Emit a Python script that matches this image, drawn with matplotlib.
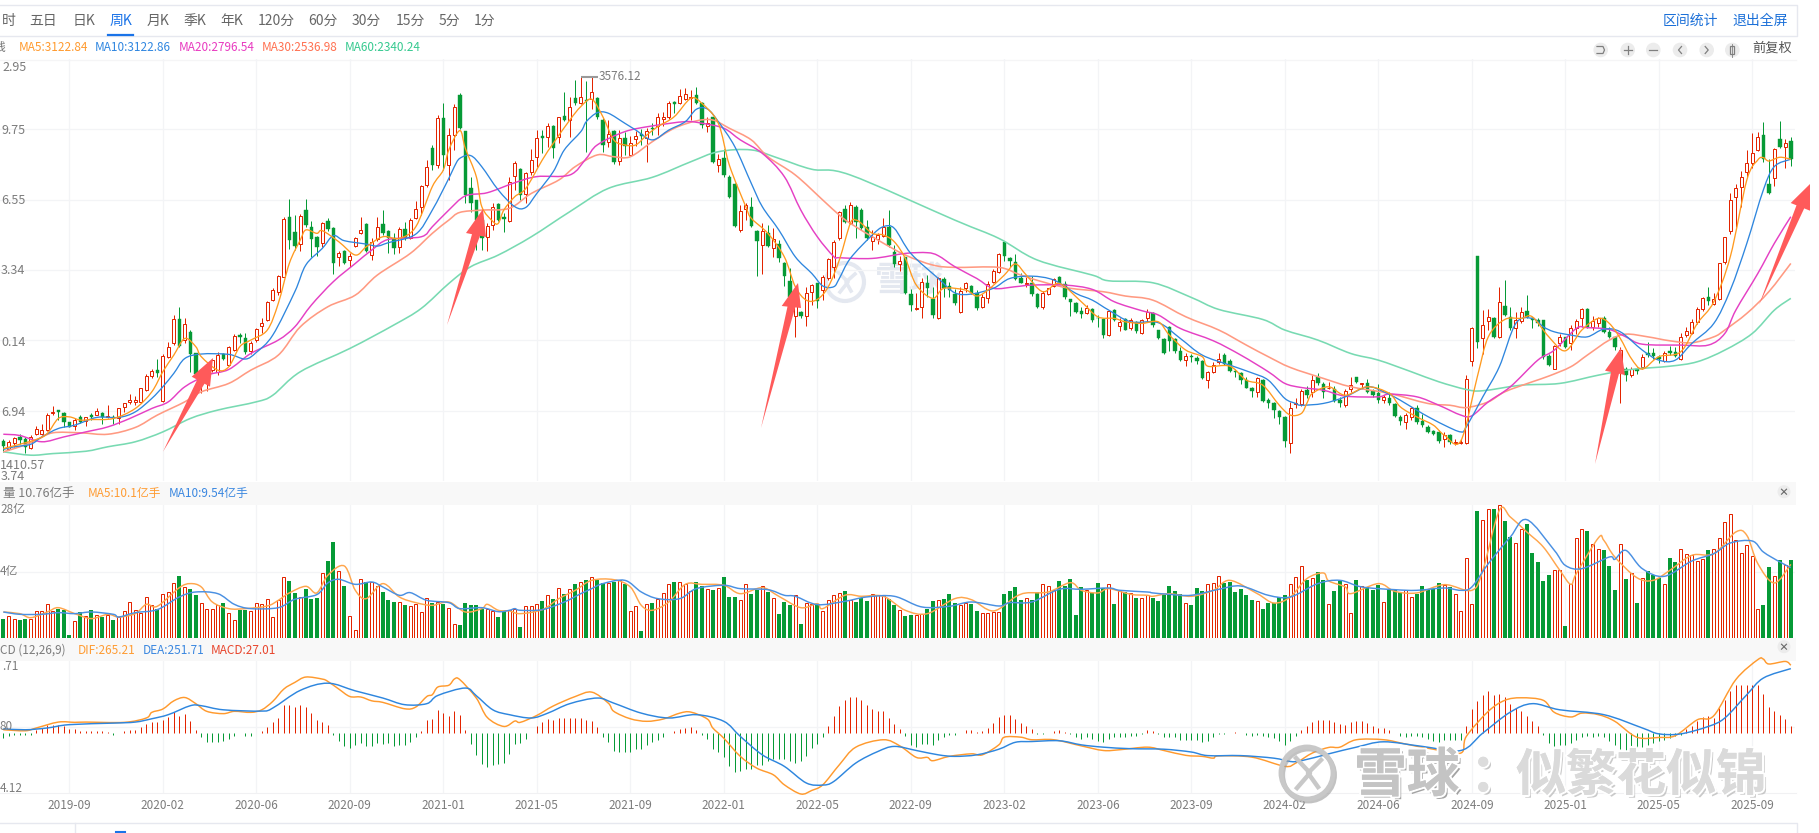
import numpy as np
import matplotlib
matplotlib.use("Agg")
import matplotlib.pyplot as plt
from matplotlib.patches import Circle, Polygon, Rectangle, PathPatch
from matplotlib.path import Path
import matplotlib.patheffects as pe

plt.rcParams['font.family'] = ['Noto Sans CJK SC', 'DejaVu Sans']

W, H = 1819, 833

# weekly candles. R = rising (hollow red), G = falling (green)
directions = ("GRRGGRRRRR" "GGGRGRGRGR" "GRRRRRRRGR" "RRGRGGRRRR" "GRRGGRRRRR"
              "RRGGRGGGRG" "GRGRRRGRRG" "GGRGRRRRGR" "GRRGGGGGRR" "GGRRGRRRGR"
              "GRGRGRGRGG" "RGRGRRGRGR" "RRGRRRGGRG" "RGGGRRGGRG" "RGGGRGRRGR"
              "RRRGRGGGRR" "RGGRGGRRGG" "RGGGRRGGRR" "RRGGGGRGGR" "RRGGGGGRGG"
              "GRGRGRGRRG" "GGGGGRGGGR" "RRGGGGGGRG" "GGGGRRRGRG" "GRGGRRGRGG"
              "GRGGGRRGGG" "GGRGRRRRGR" "RGRGGRRGGG" "GGRRGRRRGR" "RGGGRGRGRG"
              "GGRGGRRRRR" "GRRRRRRRRR" "GGRGRG")

body_tops = [
    1509,1504,1526,1528,1522,1531,1578,1572,1656,1671,
    1681,1666,1612,1628,1640,1640,1653,1677,1662,1647,
    1643,1690,1718,1736,1736,1802,1871,1899,1904,1982,
    2035,2189,2189,2159,2118,1997,1867,1904,1960,1988,
    1994,2035,2094,2103,2085,2057,2135,2169,2282,2351,
    2429,2746,2757,2677,2765,2798,2701,2646,2728,2737,
    2696,2560,2571,2541,2640,2687,2718,2621,2701,2718,
    2681,2640,2694,2690,2742,2804,2934,3040,3145,3313,
    3313,3218,3376,3441,3242,2923,2854,2742,2711,2817,
    2830,2757,2957,3059,3026,3003,3078,3199,3212,3268,
    3268,3316,3324,3376,3422,3432,3413,3456,3422,3301,
    3223,3242,3199,3199,3175,3212,3223,3242,3257,3316,
    3316,3398,3404,3435,3445,3432,3441,3394,3286,3316,
    3082,3087,2985,2944,2793,2826,2817,2683,2683,2668,
    2634,2606,2504,2402,2267,2230,2333,2379,2388,2426,
    2523,2621,2789,2804,2826,2817,2798,2705,2649,2659,
    2705,2701,2565,2515,2534,2327,2249,2398,2388,2299,
    2416,2411,2374,2329,2347,2388,2375,2333,2314,2385,
    2459,2551,2621,2528,2510,2416,2388,2388,2329,2336,
    2361,2411,2422,2385,2299,2280,2236,2249,2243,2198,
    2187,2232,2239,2174,2187,2184,2174,2184,2230,2225,
    2128,2076,2143,2076,2012,1982,1982,1973,1956,1895,
    1932,1964,1990,1956,1900,1889,1848,1802,1858,1848,
    1736,1722,1677,1643,1690,1722,1789,1792,1848,1867,
    1826,1807,1796,1736,1789,1820,1863,1833,1830,1789,
    1774,1755,1746,1714,1643,1653,1690,1690,1621,1587,
    1565,1559,1541,1541,1500,1502,1852,2141,2541,2156,
    2202,2197,2286,2264,2202,2184,2230,2232,2193,2184,
    2184,1982,2038,2087,2087,2137,2180,2245,2245,2180,
    2193,2198,2118,2087,2016,1913,1913,1913,1975,1997,
    2001,1979,2001,2012,2007,2090,2122,2171,2245,2305,
    2310,2299,2500,2646,2854,2919,2981,3059,3119,3204,
    3217,2944,3137,3193,3175,3186]

body_bottoms = [
    1479,1466,1498,1513,1476,1470,1546,1550,1572,1662,
    1671,1615,1587,1591,1615,1621,1643,1656,1640,1640,
    1634,1634,1699,1727,1727,1727,1792,1871,1889,1731,
    1979,2053,2040,2072,1994,1885,1830,1858,1904,1895,
    1969,1932,2016,2090,2007,2010,2072,2150,2184,2295,
    2342,2426,2631,2597,2608,2715,2636,2590,2612,2690,
    2504,2534,2504,2519,2597,2668,2571,2547,2636,2672,
    2640,2584,2590,2640,2640,2752,2813,2938,3050,3050,
    3106,3050,3217,3255,2882,2836,2742,2640,2649,2714,
    2742,2746,2739,2990,2882,2888,3013,3093,3203,3204,
    3143,3204,3301,3301,3394,3394,3406,3417,3316,3162,
    3178,3068,3074,3156,3106,3197,3212,3203,3249,3268,
    3309,3320,3391,3394,3421,3424,3394,3273,3268,3068,
    3048,2994,2873,2709,2687,2802,2709,2627,2603,2597,
    2588,2528,2429,2314,2206,2206,2206,2342,2292,2351,
    2416,2482,2640,2733,2728,2733,2696,2640,2627,2634,
    2653,2603,2497,2497,2333,2267,2243,2258,2361,2211,
    2193,2361,2351,2277,2230,2361,2333,2249,2254,2305,
    2398,2454,2541,2515,2411,2392,2385,2329,2258,2258,
    2329,2374,2392,2310,2284,2230,2217,2225,2184,2193,
    2100,2100,2184,2150,2131,2137,2124,2109,2198,2154,
    2081,2001,2068,2012,1960,1960,1975,1956,1858,1848,
    1895,1951,1941,1900,1893,1848,1807,1789,1783,1733,
    1722,1681,1643,1509,1498,1714,1714,1764,1783,1830,
    1783,1804,1733,1718,1708,1796,1839,1826,1783,1764,
    1740,1736,1718,1647,1621,1612,1640,1615,1597,1559,
    1550,1509,1522,1502,1496,1498,1498,1956,2062,2081,
    2180,2087,2087,2211,2137,2137,2180,2202,2184,2165,
    1979,1932,1913,2053,2031,2057,2137,2198,2143,2146,
    2165,2118,2090,2031,1923,1876,1876,1900,1923,1988,
    1982,1964,1956,1997,1982,1969,2100,2113,2174,2245,
    2292,2273,2299,2510,2683,2873,2925,3013,3063,3134,
    3082,2895,2975,3149,3149,3082]

highs = [
    1517,1513,1531,1550,1531,1541,1591,1606,1666,1703,
    1684,1671,1615,1634,1653,1643,1666,1692,1668,1707,
    1653,1695,1723,1770,1759,1807,1880,1910,1966,1993,
    2062,2211,2258,2198,2128,2001,1904,1923,1969,2007,
    2001,2040,2105,2109,2113,2068,2141,2198,2290,2361,
    2433,2757,2860,2770,2776,2860,2737,2653,2733,2755,
    2705,2571,2575,2556,2649,2761,2724,2640,2761,2798,
    2687,2668,2701,2729,2752,2851,2938,3078,3160,3329,
    3396,3257,3391,3450,3242,2985,2854,2761,2724,2836,
    2836,2780,2985,3072,3031,3013,3137,3245,3245,3283,
    3273,3320,3460,3432,3525,3544,3521,3540,3432,3311,
    3301,3245,3245,3236,3212,3242,3249,3255,3283,3339,
    3348,3409,3409,3473,3482,3469,3484,3404,3320,3320,
    3111,3137,2994,2947,2826,2839,2869,2687,2724,2715,
    2696,2631,2510,2472,2351,2236,2370,2385,2392,2435,
    2528,2631,2795,2826,2845,2826,2808,2742,2687,2668,
    2752,2798,2603,2541,2538,2355,2333,2416,2435,2370,
    2426,2426,2398,2355,2370,2398,2379,2351,2329,2402,
    2467,2556,2627,2534,2551,2444,2422,2429,2336,2347,
    2364,2416,2429,2403,2303,2286,2254,2267,2252,2211,
    2193,2239,2243,2193,2197,2197,2180,2187,2243,2230,
    2131,2081,2150,2081,2035,1997,1992,1982,1960,1900,
    1951,1997,1997,1969,1908,1895,1867,1811,1863,1852,
    1746,1727,1684,1647,1727,1746,1796,1816,1876,1889,
    1839,1839,1815,1755,1796,1867,1867,1833,1852,1796,
    1824,1764,1783,1722,1653,1662,1699,1708,1658,1597,
    1569,1569,1559,1546,1522,1522,1876,2146,2541,2239,
    2243,2202,2366,2407,2258,2230,2254,2323,2202,2198,
    2184,1994,2044,2105,2090,2156,2187,2249,2249,2206,
    2202,2206,2143,2094,2035,1919,1919,1923,1994,2062,
    2025,1988,2012,2038,2031,2109,2146,2187,2258,2314,
    2370,2336,2504,2649,2891,2944,3018,3134,3227,3236,
    3288,3082,3143,3296,3193,3205]

lows = [
    1448,1457,1476,1494,1442,1466,1541,1541,1565,1653,
    1628,1584,1584,1569,1610,1591,1628,1653,1602,1634,
    1602,1606,1671,1714,1708,1718,1789,1858,1867,1727,
    1973,2044,2035,2053,1895,1871,1777,1789,1895,1876,
    1960,1926,2012,2053,1994,1994,2062,2109,2180,2292,
    2323,2422,2582,2575,2571,2705,2537,2543,2590,2683,
    2441,2485,2497,2478,2590,2664,2565,2519,2627,2659,
    2560,2552,2556,2631,2634,2746,2770,2929,3020,3033,
    3022,2966,3134,3249,2836,2789,2575,2575,2571,2687,
    2737,2677,2733,2910,2854,2836,2994,3041,3115,3152,
    3087,3171,3298,3208,3385,3391,3124,3361,3305,3124,
    3149,3055,3050,3106,3100,3156,3162,3068,3217,3217,
    3270,3305,3339,3391,3413,3301,3391,3255,3236,3059,
    3013,2985,2864,2705,2677,2742,2705,2429,2441,2593,
    2537,2510,2374,2267,2087,2193,2150,2267,2249,2295,
    2407,2416,2631,2728,2720,2640,2687,2631,2575,2608,
    2649,2593,2482,2459,2329,2236,2239,2193,2314,2198,
    2189,2314,2314,2267,2225,2342,2327,2239,2249,2277,
    2388,2448,2515,2482,2407,2388,2366,2318,2252,2243,
    2323,2370,2385,2299,2206,2225,2193,2217,2174,2143,
    2081,2094,2178,2124,2128,2131,2113,2105,2174,2146,
    2076,1994,2012,2001,1954,1926,1951,1938,1852,1805,
    1889,1938,1932,1895,1867,1826,1802,1755,1755,1727,
    1690,1634,1602,1472,1442,1690,1703,1746,1755,1820,
    1751,1796,1727,1699,1699,1783,1830,1796,1774,1755,
    1722,1718,1708,1640,1597,1578,1628,1606,1587,1554,
    1541,1498,1472,1494,1485,1489,1494,1926,2025,1994,
    2131,2081,2081,2206,2131,2081,2165,2193,2137,2150,
    1969,1926,1908,2038,2025,2016,2105,2146,2137,2128,
    2146,2113,2081,2016,1718,1844,1867,1885,1913,1979,
    1969,1945,1951,1988,1975,1960,2087,2105,2161,2236,
    2267,2267,2295,2497,2664,2705,2813,2985,3031,3130,
    3068,2888,2932,3143,3031,3044]

# moving averages on the price panel
ma5_idx = [0,3,6,8,10,12,14,16,20,24,27,29,31,33,35,36,39,41,43,45,48,50,52,54,55,57,58,61,64,66,69,72,75,78,80,
           81,83,84,86,87,89,90,91,93,95,98,100,103,105,107,109,111,113,115,117,119,122,125,127,130,132,135,136,139,142,144,146,148,150,152,
           154,155,156,158,160,162,164,166,169,171,175,177,179,182,184,186,189,192,196,199,202,204,207,210,212,215,218,219,223,226,229,232,
           234,236,237,238,241,244,248,252,254,257,260,262,265,268,270,273,276,278,281,284,287,290,292,294,296,298,301,305,308,311,314,317,319,320,321,323,325]
ma5 = [1466,1490,1517,1550,1634,1643,1625,1628,1634,1690,1783,1895,1988,2081,2035,1979,1904,1923,2035,2072,2128,2277,2500,2631,2687,2668,2683,2621,2547,2593,2649,2640,2705,2929,3022,
       3134,3242,3143,2985,2817,2735,2724,2798,2873,2919,3078,3171,3301,3376,3417,3320,3190,3162,3162,3217,3264,3320,3422,3394,3283,3050,2817,2752,2668,2537,2370,2295,2299,2370,2519,
       2724,2742,2724,2668,2659,2621,2528,2379,2305,2361,2351,2318,2351,2435,2497,2435,2342,2388,2286,2202,2193,2174,2165,2174,2100,2016,1979,1926,1926,1848,1820,1708,
       1653,1662,1718,1774,1811,1764,1811,1774,1699,1643,1597,1541,1509,1867,2090,2187,2193,2202,2090,2012,2128,2193,2165,2081,1969,1910,1979,2007,2165,2286,2538,2966,3078,3091,3072,3093,3082]

ma10_idx = [0,2,5,7,10,13,17,21,24,27,29,31,33,36,41,44,46,49,53,55,58,60,62,66,68,70,75,78,
            81,82,83,85,87,90,93,95,97,100,102,105,106,108,110,113,115,118,121,124,126,128,130,133,136,138,141,144,147,149,151,
            152,154,158,160,162,165,170,173,176,180,183,187,191,195,198,201,205,210,214,218,223,227,230,233,235,
            236,240,244,248,251,254,258,262,265,266,269,272,275,278,280,282,285,288,291,294,298,301,304,307,311,314,317,320,322,325]
ma10 = [1461,1476,1490,1531,1578,1597,1640,1640,1671,1746,1811,1886,1969,1994,1992,1966,2003,2100,2342,2491,2584,2655,2627,2608,2597,2616,2664,2798,
        2975,3040,3087,3102,3040,2910,2817,2813,2891,3013,3134,3236,3292,3342,3339,3283,3245,3190,3245,3292,3361,3363,3292,3152,2947,2817,2687,2537,2444,2374,2370,
        2416,2528,2659,2705,2696,2556,2416,2336,2329,2361,2416,2429,2407,2333,2295,2239,2174,2169,2081,1988,1932,1889,1848,1746,1718,
        1708,1718,1755,1811,1783,1736,1662,1597,1559,1587,1755,1923,2165,2193,2146,2118,2100,2090,2133,2118,2016,1960,1960,2053,2165,2351,2612,2910,3041,3082]

ma20_idx = [0,3,7,11,15,19,23,27,30,33,37,41,45,50,53,56,60,64,67,70,76,78,
            81,84,88,93,97,103,106,108,113,118,124,127,131,134,138,142,145,148,151,
            152,158,164,168,170,173,177,180,184,187,193,198,202,207,210,214,220,225,230,233,
            236,240,244,250,252,257,261,265,267,270,274,279,282,286,288,292,295,298,305,310,313,315,319,322,325]
ma20 = [1546,1539,1504,1531,1559,1587,1634,1690,1727,1811,1876,1908,1997,2072,2146,2267,2398,2500,2575,2634,2649,2705,
        2798,2877,2895,2951,2985,2994,3087,3162,3236,3268,3292,3283,3255,3190,3115,2985,2798,2649,2538,
        2532,2528,2556,2560,2543,2482,2416,2361,2370,2379,2379,2355,2286,2236,2212,2137,2068,1988,1895,1830,
        1807,1792,1759,1755,1770,1755,1708,1653,1649,1727,1811,1960,2016,2137,2141,2131,2090,2049,2044,2044,2109,2239,2444,2612,2761]

ma30_idx = [0,3,6,9,14,19,24,28,33,36,41,45,50,54,59,64,68,74,78,81,
            83,87,92,96,101,104,108,111,114,118,122,126,129,132,136,139,144,149,152,154,
            159,164,169,173,181,185,190,194,200,204,209,215,221,226,230,
            234,240,245,252,259,263,266,270,273,278,281,285,288,292,295,299,303,307,311,313,317,321,325]
ma30 = [1448,1476,1513,1554,1554,1546,1584,1653,1727,1783,1830,1904,1988,2146,2258,2323,2435,2556,2668,2742,
        2785,2798,2808,2891,2966,3041,3106,3096,3096,3180,3255,3296,3301,3255,3190,3096,2994,2854,2770,2724,
        2631,2547,2491,2478,2478,2435,2388,2361,2342,2318,2295,2202,2128,2044,1979,
        1919,1858,1811,1774,1718,1708,1695,1727,1783,1839,1871,1923,1988,2072,2105,2090,2068,2057,2090,2128,2221,2342,2500]

ma60_idx = [0,5,9,15,19,24,29,34,39,46,49,54,63,71,76,81,85,90,96,103,110,118,125,130,136,141,147,154,
            173,181,188,198,201,209,216,221,229,233,239,245,250,256,261,266,269,276,283,290,296,303,308,313,318,322,325]
ma60 = [1448,1429,1438,1451,1476,1504,1559,1634,1681,1727,1764,1895,2025,2156,2249,2388,2482,2547,2649,2789,2919,2981,3068,3124,3134,3087,3026,2994,
        2742,2640,2519,2435,2403,2392,2310,2243,2187,2128,2072,1997,1960,1895,1839,1796,1789,1820,1830,1876,1908,1926,1951,2016,2109,2239,2305]

# volume, in 亿手
volumes = [
    2.60,3.02,2.60,2.47,2.65,2.60,3.70,3.70,4.66,3.70,
    4.07,3.84,0.41,2.33,3.61,3.11,3.84,3.20,2.88,3.20,
    2.47,2.92,3.70,4.94,3.84,3.52,5.62,4.62,3.98,6.03,
    6.31,7.54,8.55,6.99,6.76,5.90,4.80,3.98,3.98,4.52,
    4.84,3.43,2.47,3.93,3.93,3.70,4.80,4.66,5.35,2.88,
    5.21,8.36,7.86,6.22,5.62,6.76,5.39,5.48,8.91,10.60,
    13.21,9.19,7.13,3.02,1.10,8.09,7.68,7.68,7.13,6.31,
    5.21,4.94,4.94,4.52,4.39,4.66,3.56,5.48,4.80,4.94,
    4.66,4.11,1.92,1.78,4.89,4.52,4.52,4.07,4.07,3.79,
    2.92,3.75,3.93,4.07,1.55,4.43,4.43,4.66,5.12,5.90,
    5.44,6.90,6.03,6.72,7.45,7.72,8.04,8.41,8.04,7.59,
    7.59,7.72,7.95,7.40,3.75,4.43,1.01,4.75,4.84,5.44,
    6.22,7.40,7.72,7.72,7.49,6.44,7.72,7.13,6.72,6.58,
    6.90,8.41,5.67,5.67,5.21,7.40,6.12,6.67,7.13,6.35,
    5.53,3.29,4.98,4.62,5.90,1.92,4.89,4.66,4.75,3.70,
    5.21,5.90,6.22,6.49,5.30,4.98,5.58,5.12,6.12,5.90,
    5.85,5.35,4.52,3.84,3.02,3.15,3.15,3.29,3.98,5.07,
    5.21,5.35,6.03,4.84,4.52,4.89,4.66,3.75,3.47,3.47,
    3.61,3.61,6.03,6.49,7.04,5.21,5.53,5.30,6.35,7.49,
    7.13,6.58,7.91,7.13,8.09,3.15,7.04,6.58,6.22,7.59,
    6.90,7.40,4.66,6.49,6.31,6.22,5.53,5.53,5.99,
    5.53,5.16,5.90,7.17,6.49,6.03,4.89,4.57,6.90,6.44,
    7.40,7.59,8.55,7.63,7.72,6.35,6.76,5.90,5.21,5.07,
    4.02,4.84,4.84,5.67,5.90,7.40,8.41,9.92,7.95,8.32,
    9.14,8.04,4.66,6.49,7.86,7.40,3.47,8.04,7.13,7.04,
    6.58,7.36,4.94,6.58,6.58,6.35,6.58,5.67,6.03,7.13,
    6.67,6.81,7.59,7.36,7.04,6.03,3.75,11.01,4.66,17.46,
    16.18,17.69,17.73,18.23,16.09,13.89,13.07,15.04,15.72,11.70,
    10.47,7.86,8.73,9.32,9.32,1.69,7.49,13.76,14.94,14.72,
    12.98,12.20,12.06,9.87,6.67,12.89,8.18,8.96,4.84,8.27,
    9.19,8.64,8.32,7.49,11.01,10.47,12.20,11.52,11.47,10.56,
    10.83,12.06,12.20,13.76,15.95,17.00,13.44,11.70,12.75,11.24,
    3.98,4.57,9.78,8.50,10.69,10.10,10.74]

vol_ma5_idx = [0,3,5,8,10,13,16,19,21,24,26,28,32,34,36,38,41,44,48,50,52,55,57,59,62,64,66,69,72,75,78,81,84,87,88,90,
               92,94,98,101,104,107,111,114,116,118,121,124,127,131,134,138,141,145,148,149,153,156,160,164,168,173,176,180,184,186,190,194,196,199,201,205,208,
               209,212,216,220,223,228,231,234,237,240,241,244,245,250,253,257,262,267,269,272,274,277,280,283,285,286,290,291,293,297,300,303,307,311,315,317,319,322,325]
vol_ma5 = [3.61,3.38,2.83,3.61,4.20,3.38,2.70,3.29,2.92,3.38,4.66,4.39,6.94,7.50,7.04,4.98,4.07,4.07,4.43,5.21,6.22,7.13,6.22,8.64,9.92,6.58,5.44,7.50,5.67,4.89,4.52,4.98,3.61,4.07,4.66,3.84,
           3.75,3.38,3.93,5.44,6.58,7.95,8.04,7.04,4.52,3.84,4.98,7.40,7.40,7.27,6.12,6.94,5.76,4.20,4.75,4.07,5.90,5.76,5.76,3.84,3.38,5.44,5.30,3.75,5.67,6.22,6.35,7.63,6.58,6.22,6.81,6.03,5.90,
           5.76,6.12,5.76,6.58,7.95,6.12,4.84,5.67,8.18,8.96,7.86,7.04,6.12,7.50,6.44,6.22,7.36,6.58,9.32,17.55,16.64,14.58,12.52,9.32,7.40,8.87,13.76,13.44,11.15,8.32,7.95,9.32,11.38,11.61,14.58,14.12,10.24,7.59,10.14]

vol_ma10_idx = [0,3,7,10,13,16,20,21,24,28,32,35,39,42,45,50,53,57,59,61,64,67,69,72,74,77,81,83,87,90,
                92,93,94,98,102,105,107,109,113,116,119,123,126,131,134,139,142,144,148,153,157,162,167,172,176,181,183,187,192,196,201,203,208,
                209,212,216,221,225,230,234,239,243,247,253,257,262,265,267,270,274,277,282,284,287,292,293,295,298,302,307,311,314,318,320,323,325]
vol_ma10 = [3.61,3.29,3.29,3.52,3.38,3.61,3.29,2.92,3.52,3.93,5.67,6.35,6.12,4.66,4.07,4.20,5.35,5.99,7.59,8.09,7.40,7.72,7.04,5.90,6.26,5.21,4.89,4.07,4.20,3.65,
            3.84,4.07,3.84,3.93,4.98,6.12,6.81,7.50,7.95,6.35,5.44,5.44,6.81,7.27,6.81,6.67,5.90,5.76,4.62,5.07,5.67,5.76,4.30,4.39,4.98,4.43,4.89,4.98,6.72,6.72,6.90,6.58,6.35,
            6.22,6.03,5.90,6.72,7.17,5.90,5.67,7.50,7.95,7.04,6.67,6.58,6.90,6.58,7.04,10.24,13.89,16.27,12.06,10.00,9.55,11.15,10.83,12.06,9.55,8.50,10.60,11.61,13.07,13.34,11.84,10.47,9.69]

# MACD histogram
macd_hist = [
    -20,-13,-9,-8,-9,-7,13,20,30,33,30,26,17,17,9,9,9,9,7,5,
    -8,-1,9,13,13,22,36,43,43,52,61,82,68,73,48,13,-16,-33,-35,-34,
    -30,-22,-10,-1,-10,-10,-1,9,23,43,59,111,111,102,111,102,78,52,43,30,
    -9,-30,-52,-60,-46,-39,-52,-52,-39,-43,-39,-52,-46,-46,-33,-16,9,50,56,91,
    78,68,85,72,13,-42,-87,-121,-134,-124,-121,-115,-81,-42,-39,-22,0,26,43,56,
    52,59,60,60,60,60,52,48,22,
    -17,-35,-69,-72,-74,-72,-61,-61,-48,-36,-26,-17,0,10,17,21,22,13,-9,-22,
    -61,-74,-95,-128,-152,-150,-139,-139,-126,-126,-111,-102,-100,-100,-111,-115,-111,-91,-59,-43,
    -16,26,65,107,130,141,141,128,111,94,85,87,59,35,17,-13,-46,-55,-43,-43,
    -48,-26,-14,-8,-8,0,13,13,3,10,20,39,63,72,72,56,39,29,17,-3,
    -5,0,9,13,3,-5,-17,-22,-17,-22,-30,-35,-22,-17,-17,-16,-10,-10,-4,13,
    10,-3,-16,-16,-16,-26,-26,-26,-26,-33,-29,-17,-5,-3,
    0,5,-1,-7,-13,-9,-10,-17,-20,-29,-46,-29,-10,13,26,42,50,52,52,43,
    34,33,42,47,47,39,29,20,20,13,-1,-13,-16,-13,-13,-17,-23,-29,-33,-27,
    -27,-26,-26,29,95,124,150,163,147,154,141,115,98,85,68,48,29,-8,-39,-50,
    -46,-48,-39,-26,-16,-13,-16,-13,-16,-29,-46,-63,-76,-81,-76,-55,-46,-39,-29,-26,
    -20,-13,-7,16,29,48,63,68,59,98,130,163,189,189,189,189,189,154,100,87,
    72,56,26]

dif_idx = [0,4,6,10,13,15,22,26,27,29,31,33,35,37,40,42,45,47,49,51,53,55,58,59,61,63,65,67,69,73,75,77,78,79,81,82,83,86,88,91,93,94,97,100,104,107,
           110,111,114,117,120,123,125,128,129,131,134,137,140,142,145,147,149,152,155,160,163,166,168,169,172,176,178,181,182,185,187,191,196,200,203,208,211,215,
           218,220,221,227,233,235,238,241,243,246,251,255,260,265,266,270,273,276,280,282,285,287,290,293,297,301,304,308,311,315,319,320,321,324,325]
dif = [13,9,20,43,42,43,42,59,81,94,126,139,115,85,76,85,81,91,124,172,198,219,211,202,172,143,141,126,120,95,102,143,150,180,187,211,209,137,61,26,47,42,69,106,143,160,
       117,85,56,46,55,78,82,55,20,-20,-91,-137,-163,-202,-238,-224,-202,-124,-55,-26,-50,-95,-95,-108,-91,-81,-85,-46,-16,-16,-26,-26,-50,-68,-65,-55,-68,-87,
       -91,-98,-89,-94,-130,-117,-78,-56,-55,-26,-26,-43,-63,-78,-13,85,128,138,128,81,63,78,72,46,-16,-17,-10,52,68,209,287,289,270,280,265]

dea_idx = [0,4,8,12,20,24,27,30,34,36,40,47,49,54,59,64,69,73,77,79,84,86,89,92,96,99,103,108,
           111,116,121,126,131,134,138,142,146,149,151,155,159,162,166,170,173,177,181,184,187,192,196,200,205,211,216,
           219,225,231,234,236,241,246,251,258,265,269,274,278,283,291,298,301,305,310,313,317,320,325]
dea = [17,13,20,33,39,43,56,72,107,107,91,86,98,167,195,165,137,111,115,147,176,146,91,72,59,78,115,137,
       117,78,59,72,46,-13,-85,-130,-195,-203,-189,-117,-72,-52,-68,-85,-91,-85,-63,-36,-33,-30,-46,-55,-61,-63,-74,
       -88,-88,-98,-111,-108,-81,-55,-34,-52,-68,0,82,115,91,72,20,-3,-3,26,59,150,215,252]

grid_idx = [12,29,46,63,80,97,114,131,148,165,182,199,216,233,250,267,284,301,318]
date_labels = ['2019-09','2020-02','2020-06','2020-09','2021-01','2021-05','2021-09','2022-01','2022-05','2022-09',
               '2023-02','2023-06','2023-09','2024-02','2024-06','2024-09','2025-01','2025-05','2025-09']
price_ticks = [1676.94, 2070.14, 2463.34, 2856.55, 3249.75]

RED = '#e32400'
GREEN = '#069a36'
GRID = '#f3f4f6'
GRAY = '#7c7c7c'

fig = plt.figure(figsize=(W / 100, H / 100), dpi=100, facecolor='white')


def px_axes(top, bottom, zorder=1):
    ax = fig.add_axes([0, 1 - bottom / H, 1795 / W, (bottom - top) / H], zorder=zorder)
    ax.patch.set_alpha(0)
    for s in ax.spines.values():
        s.set_visible(False)
    ax.set_xlim(-0.6, 325.76)
    ax.set_xticks(grid_idx)
    ax.set_xticklabels([])
    ax.tick_params(length=0, labelleft=False)
    ax.grid(True, color=GRID, lw=0.9)
    ax.set_axisbelow(True)
    return ax


# the site draws its lines with smooth:true, so curve through the read points
def smooth_line(ax, xs, ys, color, lw, zorder=4, clip=True):
    p = np.column_stack([xs, ys]).astype(float)
    verts = [p[0]]
    codes = [Path.MOVETO]
    for k in range(len(p) - 1):
        p0 = p[max(k - 1, 0)]
        p3 = p[min(k + 2, len(p) - 1)]
        verts += [p[k] + (p[k + 1] - p0) / 6, p[k + 1] - (p3 - p[k]) / 6, p[k + 1]]
        codes += [Path.CURVE4] * 3
    ax.add_patch(PathPatch(Path(verts, codes), fill=False, ec=color, lw=lw, zorder=zorder, clip_on=clip))


# background layer: header bands and the pale centre watermark
bg = fig.add_axes([0, 0, 1, 1], zorder=0)
bg.set_xlim(0, W)
bg.set_ylim(H, 0)
bg.axis('off')
for top, bottom in [(482, 505), (638, 661)]:
    bg.add_patch(Rectangle((0, top), 1796, bottom - top, color='#f8f8f8', lw=0))
bg.plot([0, 1797, 1797, 0], [4.5, 4.5, 36, 36], color='#e6e8ef', lw=1)
bg.plot([0, 1796], [60, 60], color='#f5f5f6', lw=1)
bg.plot([0, 1796], [793, 793], color='#f1f1f3', lw=0.8)
bg.plot([0, 1797, 1797], [823, 823, 833], color='#e6e8ef', lw=1)
bg.plot([75, 75], [823, 833], color='#e6e8ef', lw=1)
bg.plot([116, 125], [832, 832], color='#1a73e8', lw=1.5)
bg.plot([108, 133], [34.5, 34.5], color='#1a73e8', lw=1.6)
bg.add_patch(Circle((845, 282), 19, fill=False, ec='#e4e8f0', lw=3))
bg.plot([838, 848, 840], [272, 282, 292], color='#e4e8f0', lw=2.6)
bg.plot([855, 846, 851], [274, 282, 291], color='#e4e8f0', lw=2.6)
bg.text(875, 280, '雪球', fontsize=25, color='#e4e8f0', va='center', ha='left', weight='bold')

# price panel
ax = px_axes(58.8, 481.2)
ax.set_ylim(1283.74, 3642.95)
ax.set_yticks(price_ticks)
x = np.arange(len(body_tops))
up = np.array([d == 'R' for d in directions])
tops = np.array(body_tops)
bottoms = np.array(body_bottoms)
colors = np.where(up, RED, GREEN)
ax.vlines(x, lows, highs, colors=colors, lw=0.72, zorder=2)
ax.bar(x[up], (tops - bottoms)[up], bottom=bottoms[up], width=0.58, facecolor='white',
       edgecolor=RED, lw=0.72, zorder=3)
ax.bar(x[~up], (tops - bottoms)[~up], bottom=bottoms[~up], width=0.62, facecolor=GREEN,
       edgecolor=GREEN, lw=0.3, zorder=3)
smooth_line(ax, ma60_idx, ma60, '#78dab2', 1.15)
smooth_line(ax, ma30_idx, ma30, '#ff9a82', 1.15)
smooth_line(ax, ma20_idx, ma20, '#e540c4', 1.05)
smooth_line(ax, ma10_idx, ma10, '#2e86de', 0.95, zorder=5)
smooth_line(ax, ma5_idx, ma5, '#ff9a1f', 0.95, zorder=5)
peak = int(np.argmax(highs))
ax.hlines(max(highs), peak, peak + 3.1, color='#9a9a9a', lw=1.5, zorder=6)
ax.text(peak + 3.2, max(highs), '3576.12', fontsize=8.5, color=GRAY, va='center', ha='left', zorder=6)

# volume panel
ax_vol = px_axes(505, 638.3)
ax_vol.set_ylim(0, 18.28)
ax_vol.set_yticks([9.14])
vols = np.array(volumes)
ax_vol.bar(x[up], vols[up], width=0.5, facecolor='white', edgecolor=RED, lw=0.72, zorder=2)
ax_vol.bar(x[~up], vols[~up], width=0.68, facecolor=GREEN, edgecolor=GREEN, lw=0, zorder=2)
smooth_line(ax_vol, vol_ma5_idx, vol_ma5, '#ffa64d', 1.05, zorder=3)
smooth_line(ax_vol, vol_ma10_idx, vol_ma10, '#4a90e2', 1.05, zorder=3)

# MACD panel
ax_macd = px_axes(661, 793)
ax_macd.set_ylim(-234.12, 281.71)
ax_macd.set_yticks([23.80])
hist = np.array(macd_hist)
ax_macd.vlines(x, 0, hist, colors=np.where(hist >= 0, RED, GREEN), lw=0.72, zorder=2)
smooth_line(ax_macd, dif_idx, dif, '#ff9a2e', 1.05, zorder=3, clip=False)
smooth_line(ax_macd, dea_idx, dea, '#2e86de', 1.05, zorder=3)
ax_macd.set_xticklabels(date_labels, fontsize=8.5, color=GRAY)
ax_macd.tick_params(axis='x', length=0, pad=4)

# everything in screen pixels from here on
ui = fig.add_axes([0, 0, 1, 1], zorder=5)
ui.patch.set_alpha(0)
ui.set_xlim(0, W)
ui.set_ylim(H, 0)
ui.axis('off')


def label(px, py, s, color=GRAY, size=8.5, ha='left'):
    ui.text(px, py, s, fontsize=size, color=color, ha=ha, va='center')


tabs = [(43, '五日'), (84, '日K'), (120.5, '周K'), (157.6, '月K'), (194.6, '季K'), (231.7, '年K'), (276, '120分'),
        (323, '60分'), (366, '30分'), (410, '15分'), (449, '5分'), (485, '1分')]
label(16, 21, '时', '#666666', 10, 'right')
for tx, name in tabs:
    label(tx, 21, name, '#1a73e8' if name == '周K' else '#666666', 10, 'center')
label(1663, 21, '区间统计', '#1a6fd8', 10)
label(1732, 21, '退出全屏', '#1a6fd8', 10)
label(1752, 48, '前复权', '#555555', 9.5)

label(5, 47, '线', '#777777', 8.5, 'right')
label(19, 47, 'MA5:3122.84', '#ff9a2e')
label(95, 47, 'MA10:3122.86', '#2f86e0')
label(179, 47, 'MA20:2796.54', '#e83ac0')
label(262, 47, 'MA30:2536.98', '#ff7050')
label(345, 47, 'MA60:2340.24', '#35c98f')

label(2, 67, '2.95', size=9)
label(1, 130, '9.75', size=9)
label(1, 200.5, '6.55', size=9)
label(1, 270.5, '3.34', size=9)
label(1, 342, '0.14', size=9)
label(1, 412.5, '6.94', size=9)
label(1, 476.5, '3.74', size=9)
label(0, 465, '1410.57', size=9)

label(3, 493, '量 10.76亿手', size=9)
label(88, 493, 'MA5:10.1亿手', '#ff9c33')
label(169, 493, 'MA10:9.54亿手', '#3a87e0')
label(0, 510, '28亿')
label(0, 572, '4亿')

label(0, 650, 'CD (12,26,9)')
label(78, 650, 'DIF:265.21', '#ff9c33')
label(143, 650, 'DEA:251.71', '#3a87e0')
label(211, 650, 'MACD:27.01', '#e8452c')
label(2, 666, '.71')
label(0, 727, '80')
label(0, 788, '4.12')

# round toolbar buttons
icon = '#7f7f7f'
for cx in [1600.7, 1627.7, 1653.3, 1680, 1706.7, 1732.3]:
    ui.add_patch(Circle((cx, 50), 7.3, color='#ececec', lw=0))
ui.plot([1597, 1603, 1604.5, 1603, 1597], [46.5, 46.5, 50, 53.5, 53.5], color=icon, lw=0.9)
ui.plot([1623.7, 1631.7], [50, 50], color=icon, lw=0.9)
ui.plot([1627.7, 1627.7], [46, 54], color=icon, lw=0.9)
ui.plot([1649.3, 1657.3], [50, 50], color=icon, lw=0.9)
ui.plot([1681.5, 1678.5, 1681.5], [46.5, 50, 53.5], color=icon, lw=0.9)
ui.plot([1705.2, 1708.2, 1705.2], [46.5, 50, 53.5], color=icon, lw=0.9)
ui.add_patch(Rectangle((1730.2, 46), 4.2, 8, fill=False, ec=icon, lw=0.9))
ui.plot([1732.3, 1732.3], [43.5, 56.5], color=icon, lw=0.6)
for cy in [491.7, 646.7]:
    ui.add_patch(Circle((1784, cy), 6.5, color='#ececec', lw=0))
    ui.plot([1781.5, 1786.5], [cy - 2.5, cy + 2.5], color='#666666', lw=0.8)
    ui.plot([1781.5, 1786.5], [cy + 2.5, cy - 2.5], color='#666666', lw=0.8)


# hand-drawn red arrows
def red_arrow(tail, left, tip, right):
    tail, left, tip, right = map(np.array, (tail, left, tip, right))
    j1 = left + 0.3 * (right - left)
    j2 = left + 0.7 * (right - left)
    ui.add_patch(Polygon([tail, j1, left, tip, right, j2], closed=True, color='#ff5a5a', lw=0))


red_arrow((163, 451.7), (191.7, 376.7), (213, 358), (210, 386.7))
red_arrow((447, 325), (466, 233), (483, 209), (486, 237))
red_arrow((761, 428), (781.7, 306), (798, 283), (801, 308))
red_arrow((1595, 464), (1605, 370.7), (1621, 348), (1625, 375))
red_arrow((1759, 305), (1790.7, 203), (1810, 184), (1810, 210.7))


# bottom-right watermark: pale glyphs with a soft shadow to the lower right
def stamp(px, s, size, front, shadow):
    effects = [pe.SimplePatchShadow(offset=(2, -2), shadow_rgbFace=shadow, alpha=0.8),
               pe.withStroke(linewidth=3, foreground='white'), pe.Normal()]
    ui.text(px, 776, s, fontsize=size, color=front, ha='left', va='center', weight='bold', path_effects=effects)


ring = '#c8c8c8'
ui.add_patch(Circle((1308.5, 775), 26, fill=False, ec='#9a9a9a', lw=3.5, alpha=0.6))
ui.add_patch(Circle((1307, 773), 26, fill=False, ec=ring, lw=3.5))
ui.plot([1296, 1310, 1297], [758, 773, 788], color=ring, lw=3.2)
ui.plot([1321, 1308, 1318], [760, 773, 787], color=ring, lw=3.2)
stamp(1354, '雪球', 38, '#c4c4c4', '#8c8c8c')
stamp(1470, '：', 38, '#dcdcdc', '#b8b8b8')
stamp(1516, '似繁花似锦', 36, '#dadada', '#bdbdbd')

fig.savefig('out.png', dpi=100)
